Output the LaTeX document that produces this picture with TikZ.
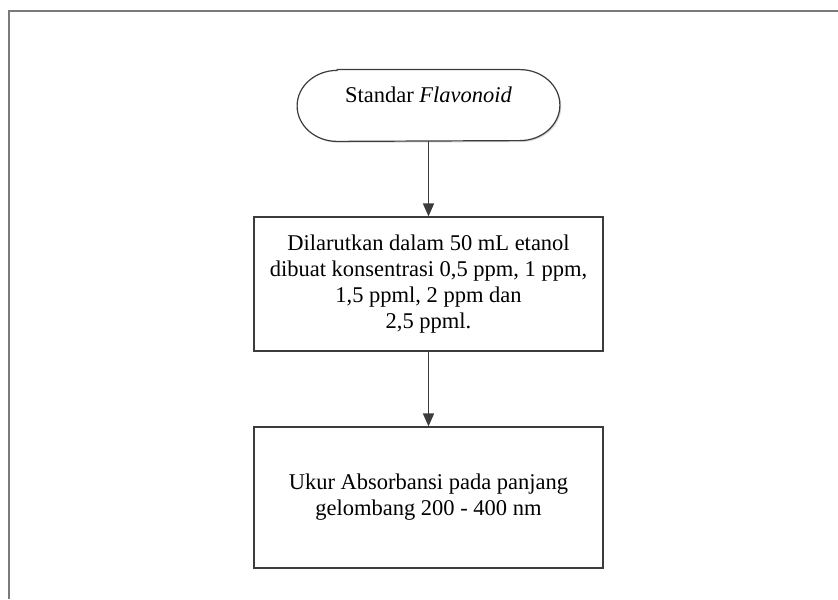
\documentclass[tikz,border=0pt]{standalone}
\usepackage{fontspec}
\setmainfont{Liberation Serif}
\usetikzlibrary{arrows.meta,shadows}

\definecolor{lineGray}{HTML}{3C3C3C}
\definecolor{frameGray}{HTML}{7A7A7A}

\tikzset{
  shade/.style={drop shadow={shadow xshift=0.7pt,shadow yshift=-0.7pt,fill=black!25,opacity=0.6}},
  boxfont/.style={font=\fontsize{11.25pt}{13pt}\selectfont},
  termbox/.style={rectangle,boxfont,inner sep=0pt,
    minimum width=131pt,minimum height=35.5pt,text depth=11pt},
  termline/.style={draw=lineGray,line width=0.6pt,fill=white,shade},
  procbox/.style={rectangle,draw=lineGray,line width=0.6pt,fill=white,shade,
    minimum width=174.5pt,align=center,boxfont},
  flowarrow/.style={-{Triangle[length=6.5pt,width=5.5pt]},draw=lineGray,fill=lineGray,line width=0.8pt}
}

\begin{document}
\begin{tikzpicture}[x=0.5pt,y=-0.5pt]
\useasboundingbox (0,0) rectangle (838,599);

% frame
\draw[frameGray,line width=0.8pt] (9,599) -- (9,11) -- (838,11);

\node[termbox] (std) at (428.5,105.5) {};
% terminator outline with elliptic ends
\draw[termline] ([xshift=20pt]std.north west) -- ([xshift=-20pt]std.north east)
  arc[start angle=90,end angle=-90,x radius=20pt,y radius=17.75pt]
  -- ([xshift=20pt]std.south west)
  arc[start angle=270,end angle=90,x radius=20pt,y radius=17.75pt] -- cycle;
\node[termbox] at (std) {Standar \textit{Flavonoid}};

\node[procbox,minimum height=67pt] (larut) at (428.5,284)
  {Dilarutkan dalam 50 mL etanol\\dibuat konsentrasi 0,5 ppm, 1 ppm,\\1,5 ppml, 2 ppm dan\\2,5 ppml.};

\node[procbox,minimum height=70.5pt] (ukur) at (428.5,497.5)
  {Ukur Absorbansi pada panjang\\gelombang 200 - 400 nm};

\draw[flowarrow] (std) -- (larut);
\draw[flowarrow] (larut) -- (ukur);

\end{tikzpicture}
\end{document}
